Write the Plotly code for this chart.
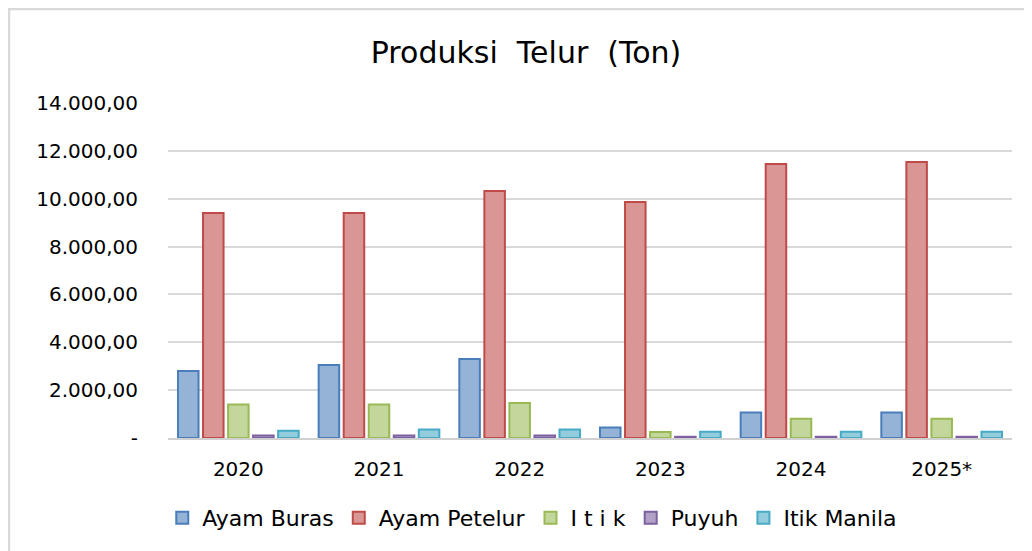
import plotly.graph_objects as go

years = ["2020", "2021", "2022", "2023", "2024", "2025*"]
ayam_buras = [2800, 3050, 3300, 440, 1070, 1070]
ayam_petelur = [9400, 9400, 10320, 9860, 11450, 11530]
itik = [1400, 1400, 1460, 250, 800, 800]
puyuh = [100, 100, 100, 50, 50, 50]
itik_manila = [300, 360, 360, 260, 260, 260]

series = [
    ("Ayam Buras", ayam_buras, "#95b3d7", "#4a7ebb"),
    ("Ayam Petelur", ayam_petelur, "#d99694", "#be4b48"),
    ("I t i k", itik, "#c3d69b", "#98b954"),
    ("Puyuh", puyuh, "#b3a2c7", "#7d60a0"),
    ("Itik Manila", itik_manila, "#93cddd", "#46aac5"),
]

tick_vals = [0, 2000, 4000, 6000, 8000, 10000, 12000, 14000]
tick_text = ["-", "2.000,00", "4.000,00", "6.000,00", "8.000,00", "10.000,00", "12.000,00", "14.000,00"]

fig = go.Figure()
for name, vals, fill, line in series:
    fig.add_trace(go.Bar(
        x=years, y=vals, name=name,
        marker=dict(color=fill, line=dict(color=line, width=2)),
    ))

font = "DejaVu Sans, sans-serif"
L, R, T, B = 160, 28, 95, 121
PW, PH = 1032 - L - R, 551 - T - B
fig.update_layout(
    width=1032, height=551,
    margin=dict(l=L, r=R, t=T, b=B, autoexpand=False),
    paper_bgcolor="white", plot_bgcolor="white",
    barmode="group", bargap=0.11, bargroupgap=0.18,
    title=dict(text="Produksi  Telur  (Ton)", x=0.502, xanchor="center", y=0.92, yanchor="middle",
               font=dict(family=font, size=30, color="black")),
    font=dict(family=font, color="black"),
    showlegend=True,
    legend=dict(orientation="h", xref="container", x=0.508, xanchor="center",
                y=-80 / PH, yanchor="middle",
                font=dict(family=font, size=22, color="black"), traceorder="normal",
                itemwidth=30),
    shapes=[dict(type="rect", xref="paper", yref="paper",
                 x0=(1 - L) / PW, x1=1.2, y0=-0.6, y1=1 + (T - 1) / PH,
                 line=dict(color="#d9d9d9", width=2.5), fillcolor="rgba(0,0,0,0)", layer="below")],
)
fig.update_yaxes(range=[0, 14000], tickvals=tick_vals, ticktext=tick_text,
                 showgrid=True, gridcolor="#d9d9d9", gridwidth=2, zeroline=False,
                 showline=False, ticks="", ticklabelstandoff=29,
                 tickfont=dict(family=font, size=20, color="black"))
fig.update_xaxes(showline=True, linecolor="#d0d0d0", linewidth=2, ticks="",
                 tickfont=dict(family=font, size=20, color="black"), ticklabelstandoff=12)

fig.write_html("out.html")
